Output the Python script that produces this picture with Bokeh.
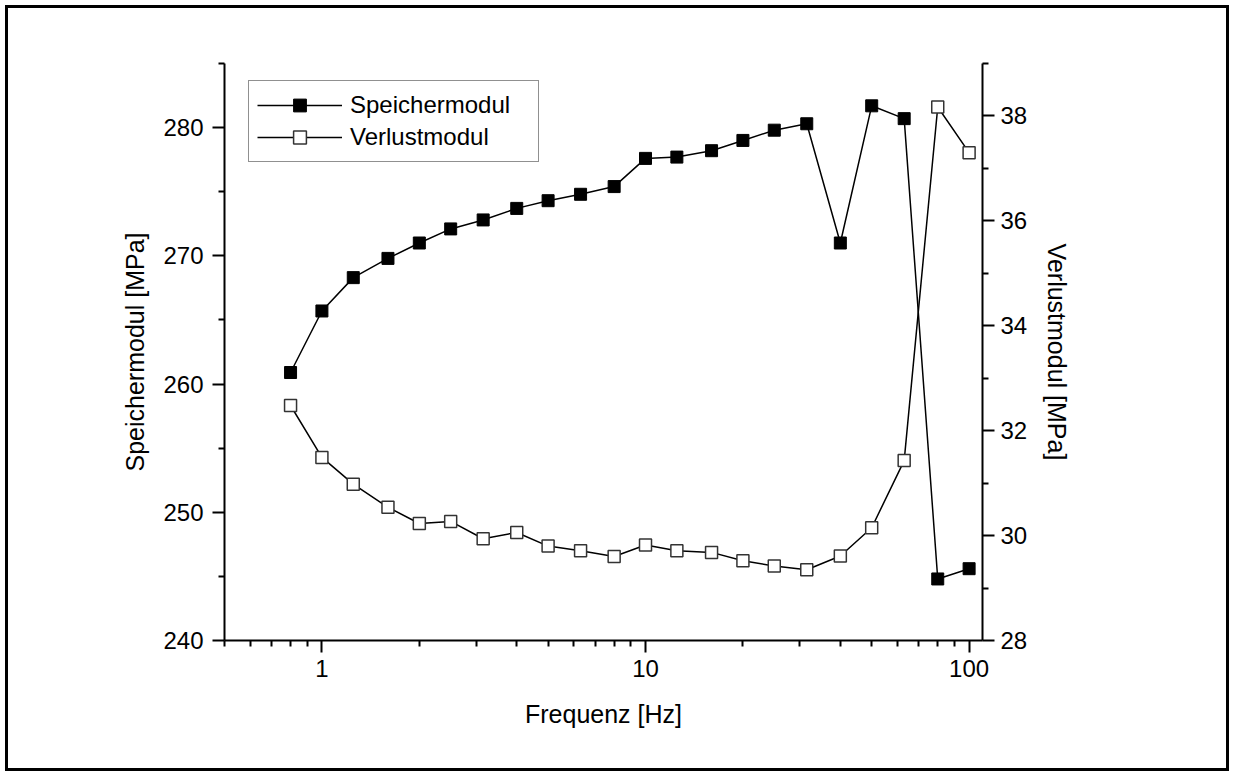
from bokeh.plotting import figure
from bokeh.models import (Range1d, LinearAxis, FixedTicker, PrintfTickFormatter,
                          Legend, LegendItem)
from bokeh.embed import file_html
from bokeh.resources import INLINE

freq = [0.8, 1, 1.25, 1.6, 2, 2.5, 3.15, 4, 5, 6.3, 8, 10, 12.5, 16, 20, 25, 31.5, 40, 50, 63, 80, 100]
speicher = [260.9, 265.7, 268.3, 269.8, 271.0, 272.1, 272.8, 273.7, 274.3, 274.8, 275.4,
            277.6, 277.7, 278.2, 279.0, 279.8, 280.3, 271.0, 281.7, 280.7, 244.8, 245.6]
verlust = [32.48, 31.49, 30.98, 30.54, 30.23, 30.27, 29.94, 30.06, 29.80, 29.71, 29.60,
           29.82, 29.71, 29.68, 29.52, 29.42, 29.35, 29.61, 30.15, 31.43, 38.17, 37.30]

x_major = [1, 10, 100]
x_minor = [0.5, 0.6, 0.7, 0.8, 0.9, 2, 3, 4, 5, 6, 7, 8, 9, 20, 30, 40, 50, 60, 70, 80, 90]
yl_major = [240, 250, 260, 270, 280]
yl_minor = [245, 255, 265, 275, 285]
yr_major = [28, 30, 32, 34, 36, 38]
yr_minor = [29, 31, 33, 35, 37, 39]

FONT = "Liberation Sans"

p = figure(width=1234, height=776, x_axis_type="log",
           x_range=Range1d(0.5, 110), y_range=Range1d(240, 285),
           output_backend="svg", toolbar_location=None,
           min_border_left=224, min_border_right=252,
           min_border_top=63, min_border_bottom=136)
p.extra_y_ranges = {"right": Range1d(28, 39)}
p.outline_line_color = None
p.xgrid.visible = False
p.ygrid.visible = False
p.background_fill_color = "white"
p.border_fill_color = None
p.styles = {"outline": "3px solid black", "outline-offset": "-8px",
            "background-color": "white"}

raxis = LinearAxis(y_range_name="right")
p.add_layout(raxis, "right")

p.xaxis[0].ticker = FixedTicker(ticks=x_major, minor_ticks=x_minor)
p.xaxis[0].formatter = PrintfTickFormatter(format="%d")
p.yaxis[0].ticker = FixedTicker(ticks=yl_major, minor_ticks=yl_minor)
raxis.ticker = FixedTicker(ticks=yr_major, minor_ticks=yr_minor)

p.xaxis[0].axis_label = "Frequenz [Hz]"
p.yaxis[0].axis_label = "Speichermodul [MPa]"
raxis.axis_label = "Verlustmodul [MPa]"

for ax in [p.xaxis[0], p.yaxis[0], raxis]:
    ax.axis_line_width = 2
    ax.axis_line_color = "black"
    ax.major_tick_line_width = 2
    ax.minor_tick_line_width = 2
    ax.major_tick_line_color = "black"
    ax.minor_tick_line_color = "black"
    ax.major_tick_in = 0
    ax.major_tick_out = 12
    ax.minor_tick_in = 0
    ax.minor_tick_out = 6
    ax.major_label_text_font = FONT
    ax.major_label_text_font_size = "24px"
    ax.major_label_text_color = "black"
    ax.axis_label_text_font = FONT
    ax.axis_label_text_font_size = "25px"
    ax.axis_label_text_font_style = "normal"
    ax.axis_label_text_color = "black"

p.xaxis[0].major_label_standoff = 7
p.xaxis[0].axis_label_standoff = 20
p.yaxis[0].major_label_standoff = 9
p.yaxis[0].axis_label_standoff = 11
raxis.major_label_standoff = 6
raxis.axis_label_standoff = 13

l1 = p.line(freq, speicher, line_color="black", line_width=1.5)
s1 = p.scatter(freq, speicher, marker="square", size=12, fill_color="black",
               line_color="black", line_width=1)
l2 = p.line(freq, verlust, line_color="black", line_width=1.5, y_range_name="right")
s2 = p.scatter(freq, verlust, marker="square", size=12, fill_color="white",
               line_color="#333333", line_width=1.5, y_range_name="right")

legend = Legend(items=[LegendItem(label="Speichermodul", renderers=[l1, s1]),
                       LegendItem(label="Verlustmodul", renderers=[l2, s2])],
                location=(24, 478), padding=8, spacing=0,
                glyph_width=85, glyph_height=32, label_height=32,
                label_width=180, label_standoff=8,
                label_text_font=FONT, label_text_font_size="24px",
                label_text_color="black",
                border_line_color="#222222", border_line_width=1.5,
                background_fill_color="white", background_fill_alpha=1.0,
                margin=0)
p.add_layout(legend, "center")

open("out.html", "w").write(file_html(p, INLINE))
